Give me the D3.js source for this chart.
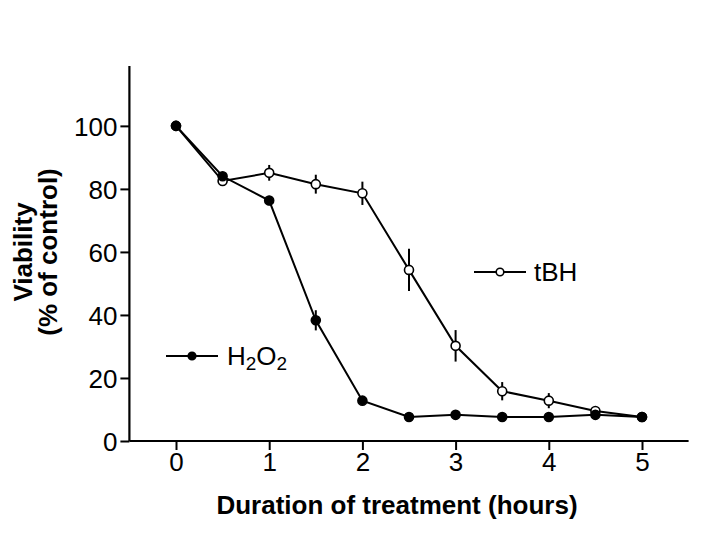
<!DOCTYPE html>
<html>
<head>
<meta charset="utf-8">
<script src="https://cdn.jsdelivr.net/npm/d3@7"></script>
<style>
  body { margin: 0; background: #fff; }
  svg { display: block; font-family: "Liberation Sans", Arial, Helvetica, sans-serif; }
</style>
</head>
<body>
<div id="chart"></div>
<script>
// Time points (hours)
const hours = [0, 0.5, 1, 1.5, 2, 2.5, 3, 3.5, 4, 4.5, 5];

// Viability (% of control) with error bars
const h2o2Values = [100, 84, 76.3, 38.3, 12.8, 7.6, 8.3, 7.6, 7.6, 8.3, 7.6];
const h2o2Errors = [0, 1.2, 1.5, 3.2, 0.8, 0, 0, 0, 0, 0, 0];
const tbhValues = [100, 82.5, 85.1, 81.5, 78.6, 54.3, 30.2, 15.8, 12.8, 9.5, 7.6];
const tbhErrors = [0, 0, 2.5, 3, 3.7, 6.7, 5, 2.9, 2.4, 1, 0];

const xTicks = [0, 1, 2, 3, 4, 5];
const yTicks = [0, 20, 40, 60, 80, 100];

const width = 720, height = 540;

const svg = d3.select('#chart').append('svg')
    .attr('width', width)
    .attr('height', height);

const x = d3.scaleLinear().domain([-0.5, 5.5]).range([129.4, 688.6]);
const y = d3.scaleLinear().domain([0, 119]).range([441, 66]);

// Axes
const xAxis = svg.append('g')
    .attr('transform', `translate(0,${y(0)})`)
    .call(d3.axisBottom(x).tickValues(xTicks).tickSize(9).tickPadding(3).tickFormat(d3.format('d')));
const yAxis = svg.append('g')
    .attr('transform', `translate(${x(-0.5)},0)`)
    .call(d3.axisLeft(y).tickValues(yTicks).tickSize(9).tickPadding(3).tickFormat(d3.format('d')));

[xAxis, yAxis].forEach(a => {
    a.select('.domain').attr('stroke', '#000').attr('stroke-width', 2.2);
    a.selectAll('.tick line').attr('stroke', '#000').attr('stroke-width', 2);
    a.selectAll('.tick text')
        .attr('fill', '#000')
        .style('font-size', '26px')
        .style('font-family', '"Liberation Sans", Arial, sans-serif');
});
xAxis.select('.domain').attr('d', `M${x(-0.5)},0H${x(5.5)}`);
yAxis.select('.domain').attr('d', `M0,${y(0)}V${y(119)}`);
yAxis.selectAll('.tick text').attr('dy', '0.36em');

// Axis titles
svg.append('text')
    .attr('x', 397).attr('y', 514)
    .attr('text-anchor', 'middle')
    .style('font-size', '26px').style('font-weight', 'bold')
    .text('Duration of treatment (hours)');

const yTitle = svg.append('text')
    .attr('transform', 'translate(0,252) rotate(-90)')
    .attr('text-anchor', 'middle')
    .style('font-size', '26px').style('font-weight', 'bold');
yTitle.append('tspan').attr('x', 0).attr('y', 32).text('Viability');
yTitle.append('tspan').attr('x', 0).attr('y', 57).text('(% of control)');

const line = d3.line().x(d => x(d[0])).y(d => y(d[1]));

function drawSeries(values, errors, fill) {
    const data = hours.map((h, i) => [h, values[i], errors[i]]);
    const g = svg.append('g');
    g.append('path')
        .datum(data)
        .attr('d', line)
        .attr('fill', 'none')
        .attr('stroke', '#000')
        .attr('stroke-width', 2);
    g.selectAll('.err')
        .data(data.filter(d => d[2] > 0))
        .enter().append('line')
        .attr('x1', d => x(d[0])).attr('x2', d => x(d[0]))
        .attr('y1', d => y(d[1] - d[2])).attr('y2', d => y(d[1] + d[2]))
        .attr('stroke', '#000').attr('stroke-width', 2);
    g.selectAll('circle')
        .data(data)
        .enter().append('circle')
        .attr('cx', d => x(d[0])).attr('cy', d => y(d[1]))
        .attr('r', 4.5)
        .attr('fill', fill)
        .attr('stroke', '#000')
        .attr('stroke-width', 1.6);
}

drawSeries(tbhValues, tbhErrors, '#fff');
drawSeries(h2o2Values, h2o2Errors, '#000');

// Legends
function legend(x0, y0, fill) {
    const g = svg.append('g');
    g.append('line').attr('x1', x0).attr('x2', x0 + 52).attr('y1', y0).attr('y2', y0)
        .attr('stroke', '#000').attr('stroke-width', 2);
    g.append('circle').attr('cx', x0 + 26).attr('cy', y0).attr('r', 3.8)
        .attr('fill', fill).attr('stroke', '#000').attr('stroke-width', 1.6);
    return g;
}
legend(474, 272, '#fff');
svg.append('text').attr('x', 534).attr('y', 281).style('font-size', '26px').text('tBH');

legend(166, 356, '#000');
const h = svg.append('text').attr('x', 227).attr('y', 365).style('font-size', '26px');
h.append('tspan').text('H');
h.append('tspan').attr('dy', 5).style('font-size', '19px').text('2');
h.append('tspan').attr('dy', -5).text('O');
h.append('tspan').attr('dy', 5).style('font-size', '19px').text('2');
</script>
</body>
</html>
